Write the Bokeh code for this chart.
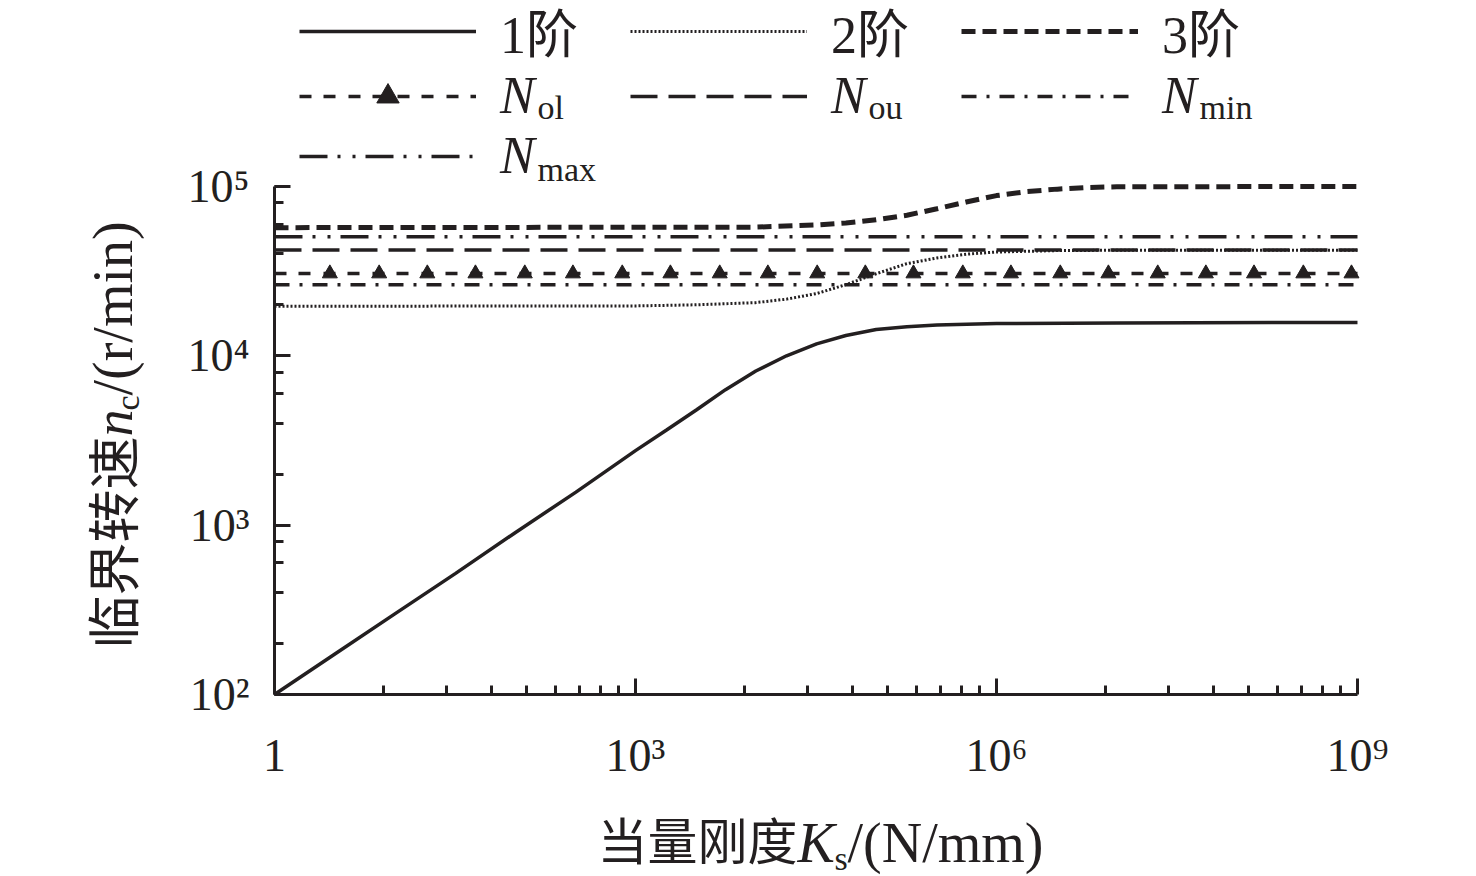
import math

from bokeh.plotting import figure
from bokeh.models import (ColumnDataSource, FixedTicker, LogTicker, CustomJSTickFormatter,
                          Legend, LegendItem, Label, Range1d)
from bokeh.embed import file_html
from bokeh.resources import INLINE

# values: K in N/mm, n in r/min
k_first = [1, 3.2, 10, 32, 100, 320, 1e3, 1.8e3, 3.2e3, 5.6e3, 1e4, 1.8e4, 3.2e4,
           5.6e4, 1e5, 1.8e5, 3.2e5, 1e6, 1e7, 1e9]
n_first = [100, 174, 299, 519, 902, 1567, 2754, 3631, 4786, 6310, 8128, 10000, 11750,
           13180, 14290, 14860, 15200, 15490, 15630, 15740]

k_second = [1, 1e3, 3.2e3, 1e4, 1.8e4, 3.2e4, 5.6e4, 1e5, 1.8e5, 3.2e5, 5.6e5, 1e6,
            3.2e6, 1e7, 1e9]
n_second = [19600, 19700, 20000, 20600, 21600, 23300, 26300, 30500, 35000, 37800,
            39800, 41000, 41800, 42000, 42000]

k_third = [1, 1e4, 3.2e4, 5.6e4, 1e5, 1.8e5, 3.2e5, 5.6e5, 1e6, 1.8e6, 3.2e6, 5.6e6,
           1e7, 1e9]
n_third = [57100, 57500, 59200, 60800, 63500, 67600, 73800, 80900, 88300, 93300,
           96400, 98600, 99500, 100000]

k_span = [1, 1e9]
n_ol = 30600
n_ou = 42200
n_min = 26300
n_max = 50500

# log10(K) of the triangles drawn on N_ol
ol_mark_exp = [0.46, 0.87, 1.27, 1.67, 2.08, 2.48, 2.89, 3.29, 3.70, 4.10, 4.51,
               4.91, 5.31, 5.72, 6.12, 6.53, 6.93, 7.34, 7.74, 8.14, 8.55, 8.95]

order_labels = ["1阶", "2阶", "3阶"]
limit_subs = ["ol", "ou", "min", "max"]

x_major = [1, 1e3, 1e6, 1e9]
x_bounds = (1, 1e9)
y_bounds = (1e2, 1e5)

ink = "#231f20"
serif = "Liberation Serif"
cjk = "Noto Sans CJK SC"
mixed = "'Liberation Serif', 'Noto Sans CJK SC'"

W, H = 1476, 876

# the frame fills the page; the axes sit at K=1 and n=100 and are bounded,
# so the legend and axis titles can live inside the frame without being clipped
p = figure(width=W, height=H,
           x_axis_type="log", y_axis_type="log",
           x_range=Range1d(10 ** -2.277, 10 ** 9.989),
           y_range=Range1d(10 ** 0.925, 10 ** 6.098),
           output_backend="svg", toolbar_location=None, tools="",
           min_border=0)
p.title.visible = False
p.outline_line_color = None
p.grid.visible = False
p.background_fill_color = "white"
p.border_fill_color = "white"

sup_fmt = CustomJSTickFormatter(code="""
    const sup = "⁰¹²³⁴⁵⁶⁷⁸⁹";
    const e = Math.round(Math.log10(tick));
    if (e == 0) return "1";
    return "10" + String(e).split("").map((d) => sup[Number(d)]).join("");
""")

for ax in (p.xaxis[0], p.yaxis[0]):
    ax.axis_line_width = 3
    ax.axis_line_color = ink
    ax.major_tick_line_width = 3
    ax.minor_tick_line_width = 3
    ax.major_tick_line_color = ink
    ax.minor_tick_line_color = ink
    ax.major_tick_out = 0
    ax.minor_tick_out = 0
    ax.major_tick_in = 16
    ax.minor_tick_in = 9
    ax.major_label_text_font = serif
    ax.major_label_text_font_size = "46px"
    ax.major_label_text_color = ink
    ax.formatter = sup_fmt

p.xaxis.fixed_location = y_bounds[0]
p.xaxis.bounds = x_bounds
p.yaxis.fixed_location = x_bounds[0]
p.yaxis.bounds = y_bounds

# the K axis steps by 10^3, minor ticks at m x 1000^e drawn like a log decade
p.xaxis.ticker = FixedTicker(ticks=x_major,
                             minor_ticks=[m ** 3 * 1000 ** e for e in range(3) for m in range(2, 10)])
p.yaxis.ticker = LogTicker()
p.xaxis.major_label_standoff = 36
p.yaxis.major_label_standoff = 25

r1 = p.line(k_first, n_first, line_color=ink, line_width=3.5)
r2 = p.line(k_second, n_second, line_color=ink, line_width=3, line_dash="2 2")
r3 = p.line(k_third, n_third, line_color=ink, line_width=5, line_dash="14 7")

r_ol = p.line(k_span, [n_ol, n_ol], line_color=ink, line_width=3.5, line_dash="12 12 12 13")
ol_src = ColumnDataSource(data={
    'k': [10 ** e for e in ol_mark_exp],
    'n': [n_ol] * len(ol_mark_exp),
})
r_ol_m = p.scatter('k', 'n', source=ol_src, marker="triangle", size=15,
                   fill_color=ink, line_color=ink)
r_ou = p.line(k_span, [n_ou, n_ou], line_color=ink, line_width=3.5, line_dash="27 11")
r_min = p.line(k_span, [n_min, n_min], line_color=ink, line_width=3.5, line_dash="15 10 3 10")
r_max = p.line(k_span, [n_max, n_max], line_color=ink, line_width=3.5,
               line_dash="28 10 3 12 3 10")


def make_legend(items, left, bottom, style):
    leg = Legend(items=items, location=(left, H - bottom), orientation="horizontal", ncols=3,
                 glyph_width=177, glyph_height=56, label_width=129, label_height=56,
                 label_standoff=24, spacing=1, padding=0, margin=0,
                 border_line_color=None, background_fill_alpha=0,
                 label_text_font=mixed, label_text_font_size="52px",
                 label_text_color=ink, label_text_font_style=style)
    p.add_layout(leg)
    return leg


make_legend([LegendItem(label=order_labels[0], renderers=[r1]),
             LegendItem(label=order_labels[1], renderers=[r2]),
             LegendItem(label=order_labels[2], renderers=[r3])],
            299, 68, "normal")
make_legend([LegendItem(label="N", renderers=[r_ol, r_ol_m]),
             LegendItem(label="N", renderers=[r_ou]),
             LegendItem(label="N", renderers=[r_min]),
             LegendItem(label="N", renderers=[r_max])],
            299, 185, "italic")


def piece(text, px, py, font, size, style="normal", angle=0):
    # px, py: page pixels from the top-left corner of the text anchor
    p.add_layout(Label(x=px, y=H - py, x_units='screen', y_units='screen', text=text,
                       text_font=font, text_font_size=size, text_font_style=style,
                       text_color=ink, text_baseline="alphabetic", text_align="left",
                       angle=angle))


# subscripts of the N entries
sub_pos = [(537, 107), (868, 107), (1199, 107), (537, 169)]
for sub, (sx, sy) in zip(limit_subs, sub_pos):
    piece(sub, sx, sy, serif, "34px")

# x axis title: 当量刚度 K_s /(N/mm)
piece("当量刚度", 597, 837, cjk, "50px")
piece("K", 797, 842, serif, "56px", "italic")
piece("s", 834, 858, serif, "34px")
piece("/(N/mm)", 847, 842, serif, "56px")

# y axis title, read bottom to top: 临界转速 n_c /(r/min)
up = math.pi / 2
piece("临界转速", 110, 648, cjk, "53px", angle=up)
piece("n", 113, 436, serif, "54px", "italic", angle=up)
piece("c", 127, 410, serif, "34px", angle=up)
piece("/(r/min)", 112, 395, serif, "56px", angle=up)

open("out.html", "w", encoding="utf-8").write(file_html(p, INLINE))
